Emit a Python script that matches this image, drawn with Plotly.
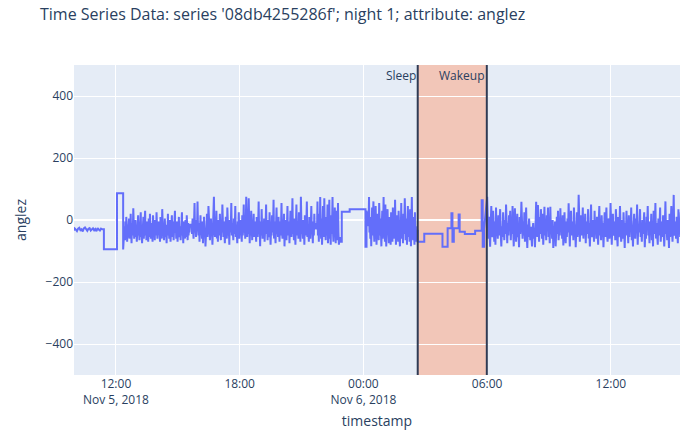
import pandas as pd
import plotly.graph_objects as go

# ---- anglez readings, series '08db4255286f', night 1 ----

# quiet, almost still stretch in the morning (evenly sampled)
pre_span = ("2018-11-05 09:50", "2018-11-05 11:20")
pre_vals = [-30, -26, -34, -27, -31, -36, -28, -25, -33, -30,
            -37, -27, -24, -32, -35, -28, -26, -34, -30, -27,
            -33, -29, -36, -26, -31, -34, -28, -30]

# held positions: time of change -> new angle
hold1_times = ["2018-11-05 11:25", "2018-11-05 12:03", "2018-11-05 12:21"]
hold1_vals = [-94, 86, -95]

# active period, afternoon
active_a_span = ("2018-11-05 12:25", "2018-11-05 15:35")
active_a_vals = [
    -20, -65, -5, -50, 10, -40, -70, -15, -55, -30,
    5, -60, -25, -45, 20, -35, -75, -10, -50, -30,
    38, -40, -60, -15, -45, 0, -55, -25, -70, -10,
    -40, 15, -50, -20, -65, -5, -35, 25, -55, -30,
    -75, -15, -45, 10, -60, -25, -40, 30, -50, -20,
    -65, -5, -45, -30, -70, 5, -35, -55, 20, -25,
    -60, -10, -45, -30, -70, 15, -40, -55, -20, -65,
    0, -35, -50, 25, -30, -60, -15, -45, -5, -55,
    -25, -70, 10, -40, -20, -60, 35, -30, -50, -10,
    -65, -35, 5, -55, -20, -45, -75, -15, -40, 20,
    -50, -30, -60, 0, -25, -70, -10, -45, 15, -55,
    -35, -5, -65, -20, -50, 30, -40, -15, -60, -30,
    -5, -70, -25, -45, 10, -55, -35, -20, -65, -10,
    -40, 25, -50, -30, -75, -5, -45, -20, -60, 0,
    -35, -55, 15, -25, -65, -10, -50, -30, -40, -15]

# active period, evening
active_b_span = ("2018-11-05 15:40", "2018-11-05 21:40")
active_b_vals = [
    -15, -45, 5, -30, -60, -10, 55, -40, -20, -55,
    0, -35, 60, -25, -50, -10, -70, -30, 15, -45,
    -20, -60, -5, -75, -35, 10, -50, -25, -85, -15,
    -40, 20, -55, -30, 45, -10, -45, -65, -20, 5,
    -50, -35, -80, -5, -40, 75, -25, -55, -15, -45,
    30, -60, -20, -70, 0, -35, -50, 20, -30, -65,
    -10, -40, 50, -25, -55, -5, -45, -75, -20, 10,
    -35, -60, 40, -15, -50, -30, -80, 0, -40, -20,
    55, -50, -10, -35, -65, 5, -45, -25, 45, -55,
    -15, -40, -75, -5, -30, 25, -60, -20, -45, 0,
    -35, -70, 15, -50, -25, 50, -40, -10, -60, -30,
    75, -20, -55, -5, -45, 70, -30, -75, -15, -50,
    30, -35, -65, -10, -40, 20, -55, -25, -5, -45,
    -70, 10, -30, -55, -15, 60, -40, -20, -85, -5,
    -50, 35, -25, -60, -10, -40, 5, -70, -30, -15,
    50, -45, -20, -65, 0, -35, -55, 25, -10, -80,
    -30, -50, 15, -40, -20, 65, -60, -5, -35, -75,
    -15, 40, -45, -25, -55, 10, -30, -70, -5, -50,
    -20, 55, -40, -60, -10, -35, 20, -85, -25, -45,
    0, -65, -15, 45, -50, -30, -5, -75, -40, 30,
    -20, -55, -10, 70, -45, -25, -65, 5, -35, -80,
    -15, 50, -50, -30, -5, -60, 25, -40, -20, -70,
    75, -10, -45, -35, -60, 0, -25, -80, 15, -50,
    -30, -5, 60, -55, -20, -40, -70, 10, -35, -60,
    -15, 45, -45, -25, -75, -5, -50, 20, -30, -10]

# late evening
active_c_span = ("2018-11-05 21:45", "2018-11-05 22:50")
active_c_vals = [
    -30, 60, -50, -10, -70, 20, -40, 74, -25, -60,
    5, -80, -35, 45, -15, -55, 70, -45, -20, -65,
    10, -50, -30, 50, -75, -40, -5, 65, -60, -25,
    -80, 15, -45, -10, 74, -35, -70, 0, -55, 40,
    -20, -75, 30, -50, -5, -65, 55, -40, -80, -58]

hold2_times = ["2018-11-05 22:53", "2018-11-05 22:57", "2018-11-05 23:20",
               "2018-11-06 00:06", "2018-11-06 00:09"]
hold2_vals = [-70, 27, 35, -86, 30]

# restless period before sleep onset
active_d_span = ("2018-11-06 00:15", "2018-11-06 02:35")
active_d_vals = [
    -20, 74, -40, -5, -60, 10, -85, -30, 40, -50,
    -15, 60, -35, -70, 0, -45, 45, -25, -80, -10,
    -55, 20, -40, -65, 55, -20, -50, 5, -35, -85,
    -15, 30, -60, -25, 74, -45, -10, -70, 50, -30,
    -85, -5, -55, 35, -40, -20, -75, 10, -60, -35,
    -80, 25, -50, -15, -70, 40, -30, -60, -5, -45,
    65, -25, -80, -10, -50, 15, -35, -70, 30, -55,
    -20, -85, 0, -40, 55, -60, -15, -30, -75, 20,
    -45, -10, 70, -35, -65, -25, 5, -80, -40, 45,
    -20, -55, -5, -70, 35, -30, -85, -15, 74, -50,
    -25, -65, 10, -40, -80, 25, -55, -20, -70, -35]

# sleep window: long held postures
hold3_times = ["2018-11-06 02:38", "2018-11-06 02:57", "2018-11-06 03:50",
               "2018-11-06 04:05", "2018-11-06 04:16", "2018-11-06 04:19",
               "2018-11-06 04:23", "2018-11-06 04:37", "2018-11-06 04:40",
               "2018-11-06 04:55", "2018-11-06 05:25", "2018-11-06 05:44",
               "2018-11-06 05:47", "2018-11-06 05:51"]
hold3_vals = [-70, -44, -86, -27, 22, -70, -27, 18, -38, -45, -35, 64, -86, -30]

# awake again, morning to afternoon
active_e_span = ("2018-11-06 06:00", "2018-11-06 15:25")
active_e_vals = [
    75, -30, -60, 10, -45, -86, -15, 45, -35, -55,
    30, -20, -70, -5, -80, 40, -40, -25, -60, 15,
    -50, -10, 35, -45, -85, -20, -55, 25, -35, -65,
    0, -45, 50, -25, -75, -10, -50, 15, -35, 30,
    -65, -15, -45, 45, -30, -85, -5, 38, -40, -70,
    -20, 20, -55, -30, -88, 10, -45, -15, 59, -35,
    -60, -5, -50, 25, -70, -25, 40, -45, -90, -15,
    -55, 5, -35, -65, -22, -50, -85, -30, -10, -60,
    -25, -88, -40, 59, -20, -55, 48, -30, -70, 10,
    -45, 35, -15, -60, 20, -80, -30, 43, -50, -10,
    -65, 15, -35, 40, -55, -20, -75, 43, -40, -10,
    -60, 0, -90, -30, -50, -5, -85, -25, 10, -45,
    30, -65, -20, -50, 38, -35, -10, -60, 15, -82,
    -30, 25, -45, -75, -5, -55, 5, -40, 54, -25,
    -85, -15, 30, -50, -35, -5, -65, 40, -30, -15,
    -88, -45, 25, -55, -20, 81, -35, -70, -10, 15,
    -50, -25, 40, -60, -15, -40, 20, -75, -5, -45,
    -30, 35, -60, -10, -85, -25, 50, -40, -55, 0,
    -20, -70, 30, -45, -15, -60, 10, -35, -80, -5,
    45, -50, -25, -65, 15, -40, -10, -88, -30, 25,
    -55, -15, 40, -45, -70, -20, 5, -60, -35, 55,
    -10, -80, -25, 20, -50, -40, -5, -65, 35, -30,
    -15, -85, 10, -55, -35, 45, -20, -70, -45, 0,
    -60, 25, -30, -90, -10, -50, 30, -40, -20, -75,
    15, -55, -5, -35, 40, -65, -25, -85, -15, 20,
    -45, -60, 5, -30, 50, -80, -20, -40, -10, 35,
    -55, -25, -70, 0, -45, -15, 25, -88, -35, -60,
    10, -20, 45, -50, -30, -75, -5, -40, 20, -65,
    -15, -85, 30, -45, -25, 55, -60, -10, -35, -80,
    5, -50, -20, 40, -70, -30, -5, -55, 15, -40,
    -85, -15, 60, -45, -25, -65, 0, -35, -90, 20,
    -55, -10, 45, -30, -70, -20, 81, -50, -40, -5,
    -60, 10, -25, -75, 35, -45, -15, -55, 25, -30]

sleep_onset = "2018-11-06 02:38"
wakeup_time = "2018-11-06 05:59"

times, values = [], []


def add_sampled(span, vals):
    """Evenly spaced readings between the two span ends."""
    times.extend(pd.date_range(span[0], span[1], periods=len(vals)))
    values.extend(vals)


def add_holds(change_times, vals):
    """Angle held flat, jumping to a new value at each change time."""
    for t, v in zip(pd.to_datetime(change_times), vals):
        times.extend([t, t])
        values.extend([values[-1], v])


add_sampled(pre_span, pre_vals)
add_holds(hold1_times, hold1_vals)
add_sampled(active_a_span, active_a_vals)
add_sampled(active_b_span, active_b_vals)
add_sampled(active_c_span, active_c_vals)
add_holds(hold2_times, hold2_vals)
add_sampled(active_d_span, active_d_vals)
add_holds(hold3_times, hold3_vals)
add_sampled(active_e_span, active_e_vals)

fig = go.Figure()
fig.add_trace(go.Scatter(
    x=times, y=values, mode="lines",
    line=dict(color="#636efa", width=2),
    showlegend=False,
))

# sleep window shading and event markers
fig.add_shape(type="rect", xref="x", yref="paper",
              x0=sleep_onset, x1=wakeup_time, y0=0, y1=1,
              fillcolor="LightSalmon", opacity=0.5, line_width=0, layer="below")
for when, label in [(sleep_onset, "Sleep"), (wakeup_time, "Wakeup")]:
    fig.add_shape(type="line", xref="x", yref="paper",
                  x0=when, x1=when, y0=0, y1=1,
                  line=dict(color="#2f3b55", width=2))
    fig.add_annotation(x=when, y=1, xref="x", yref="paper",
                       text=label, showarrow=False,
                       xanchor="right", yanchor="top",
                       font=dict(size=12, color="#2a3f5f"))

fig.update_layout(
    template="plotly",
    width=680, height=430,
    margin=dict(l=74, r=0, t=65, b=55),
    title=dict(text="Time Series Data: series '08db4255286f'; night 1; attribute: anglez",
               x=40 / 680, xanchor="left", y=1 - 14 / 430, yanchor="middle",
               font=dict(size=16)),
    xaxis=dict(title=dict(text="timestamp"),
               range=["2018-11-05 09:58", "2018-11-06 15:21"],
               automargin=False),
    yaxis=dict(title=dict(text="anglez"), range=[-500, 500],
               dtick=200, automargin=False),
)

fig.write_html("out.html")
